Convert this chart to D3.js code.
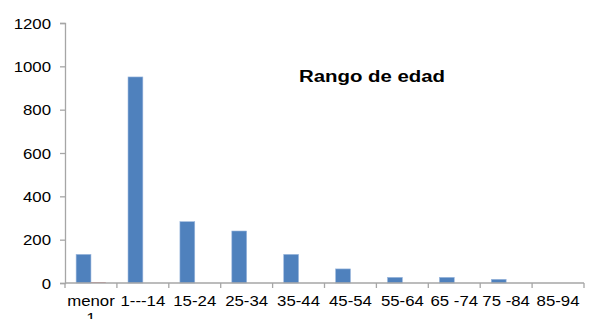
<!DOCTYPE html>
<html>
<head>
<meta charset="utf-8">
<script src="https://cdn.jsdelivr.net/npm/d3@7"></script>
<style>
html,body{margin:0;padding:0;background:#fff;}
svg{display:block;font-family:"Liberation Sans",Arial,sans-serif;}
</style>
</head>
<body>
<svg id="chart" width="593" height="319"></svg>
<script>
const categories = ["menor 1","1---14","15-24","25-34","35-44","45-54","55-64","65 -74","75 -84","85-94"];
const series1 = [132, 951, 283, 240, 132, 65, 26, 26, 17, 0];
const series2 = [3, 0, 0, 0, 0, 0, 0, 0, 0, 0];
const yTicks = [0, 200, 400, 600, 800, 1000, 1200];
const chartTitle = "Rango de edad";

(function(){
const sx = 1.2;
const svg = d3.select("#chart");
const mLeft = 65, mRight = 584, mTop = 23, mBottom = 283;

const x = d3.scaleBand().domain(categories).range([mLeft, mRight]).paddingInner(0).paddingOuter(0);
const y = d3.scaleLinear().domain([0, 1200]).range([mBottom, mTop]);

const axisColor = "#A6A6A6";
const bw = x.bandwidth();
const barW = bw / 3.5;
const off = barW * 0.75;

// bars series 1
svg.append("g").selectAll("rect").data(categories).join("rect")
  .attr("x", d => x(d) + off)
  .attr("y", (d,i) => y(series1[i]))
  .attr("width", barW)
  .attr("height", (d,i) => mBottom - y(series1[i]))
  .attr("fill", "#4F81BD")
  .attr("stroke", "#9BB7DD")
  .attr("stroke-width", 0.6);

// bars series 2
svg.append("g").selectAll("rect").data(categories).join("rect")
  .attr("x", d => x(d) + off + barW)
  .attr("y", (d,i) => y(series2[i]))
  .attr("width", barW)
  .attr("height", (d,i) => mBottom - y(series2[i]))
  .attr("fill", "#C0504D");

// y axis
const yAxis = svg.append("g").attr("transform", `translate(${mLeft},0)`)
  .call(d3.axisLeft(y).tickValues(yTicks).tickSize(5).tickPadding(0).tickFormat(d3.format("d")));
yAxis.select(".domain").attr("stroke", axisColor).attr("stroke-width", 1.3);
yAxis.selectAll(".tick line").attr("stroke", axisColor).attr("stroke-width", 1.3);
yAxis.selectAll(".tick text").remove();
yAxis.selectAll(".tick").append("text")
  .attr("transform", `translate(-14,0) scale(${sx},1)`)
  .attr("text-anchor", "end")
  .attr("dy", "0.36em")
  .attr("fill", "#000")
  .attr("font-size", 14)
  .text(d => d);

// x axis
const xg = svg.append("g").attr("transform", `translate(0,${mBottom})`);
xg.append("line").attr("x1", mLeft).attr("x2", mRight).attr("y1", 0).attr("y2", 0)
  .attr("stroke", axisColor).attr("stroke-width", 1.3);
const boundaries = categories.map(c => x(c)).concat([mRight]);
xg.selectAll("line.tk").data(boundaries).join("line").attr("class","tk")
  .attr("x1", d => d).attr("x2", d => d).attr("y1", 0).attr("y2", 5)
  .attr("stroke", axisColor).attr("stroke-width", 1.3);

xg.selectAll("g.lbl").data(categories).join("g").attr("class","lbl")
  .attr("transform", d => `translate(${x(d) + bw/2},0)`)
  .each(function(d){
    const parts = d === "menor 1" ? ["menor","1"] : [d];
    const t = d3.select(this).append("text")
      .attr("transform", `scale(${sx},1)`)
      .attr("text-anchor", "middle")
      .attr("font-size", 14)
      .attr("fill", "#000");
    parts.forEach((p, i) => {
      t.append("tspan").attr("x", 0).attr("y", 23 + i*17).text(p);
    });
  });

// title
svg.append("text")
  .attr("transform", `translate(372,82) scale(${sx},1)`)
  .attr("text-anchor", "middle")
  .attr("font-size", 17)
  .attr("font-weight", "bold")
  .attr("fill", "#000")
  .text(chartTitle);
})();
</script>
</body>
</html>
